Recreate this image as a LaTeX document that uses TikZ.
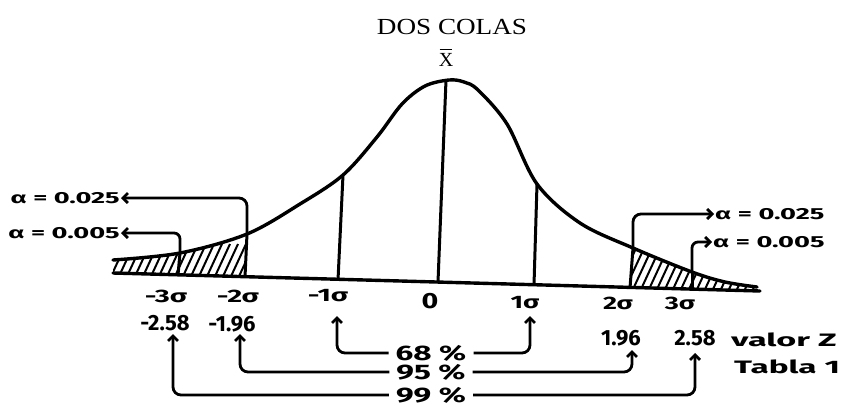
\documentclass[tikz,border=0pt]{standalone}
\usepackage{fontspec}
\setmainfont{Liberation Serif}
\newfontfamily\hand{Fira Sans}
\usetikzlibrary{arrows.meta}
\newcommand\wide[2]{\scalebox{#1}[1]{#2}}
\begin{document}
\begin{tikzpicture}[x=1pt,y=-1pt,
  curve/.style={line width=3.4pt, line join=round, line cap=round},
  vline/.style={line width=3pt},
  arr/.style={line width=2.8pt, rounded corners=8pt, -{Straight Barb[length=5pt,width=10pt]}},
  hw/.style={font=\hand\bfseries\fontsize{22}{22}\selectfont, inner sep=1pt},
  hws/.style={font=\hand\bfseries\fontsize{18}{18}\selectfont, inner sep=1pt},
  alab/.style={font=\hand\bfseries\fontsize{16}{16}\selectfont, inner sep=1pt},
  pct/.style={font=\hand\bfseries\fontsize{21}{21}\selectfont, inner xsep=7pt, inner ysep=0pt},
  hatch/.style={line width=2pt}]
\useasboundingbox (0,0) rectangle (851,408);
\def\curvepts{(113,260) (180,253) (247,234) (300,204) (343,175) (377,137) (402,104) (425,86) (449,80) (464,82) (478,90) (507,124) (537,184) (580,223) (633,248) (692,272) (725,282) (757,287)}
% hatched tails
\begin{scope}
  \clip (100,0) rectangle (246,408) (631,0) rectangle (780,408);
  \clip plot[smooth,tension=0.55] coordinates {\curvepts} -- (760,291) -- (113,273) -- cycle;
  \foreach \x in {60,68,...,800} \draw[hatch] (\x,300) -- ++(26,-56);
\end{scope}
% curve and base line
\draw[curve] plot[smooth,tension=0.55] coordinates {\curvepts};
\coordinate (bl) at (113,273);
\coordinate (br) at (760,291);
\draw[curve] (bl) -- (br);
% vertical lines
\coordinate (m3t) at (180,253); \coordinate (m3b) at (178,275);
\coordinate (m2t) at (247,234); \coordinate (m2b) at (245,277);
\coordinate (m1t) at (343,175); \coordinate (m1b) at (338,280);
\coordinate (zt) at (446,80);  \coordinate (zb) at (438,282);
\coordinate (p1t) at (537,184); \coordinate (p1b) at (534,285);
\coordinate (p2t) at (633,248); \coordinate (p2b) at (630,288);
\coordinate (p3t) at (692,272); \coordinate (p3b) at (692,290);
\foreach \a/\b in {m3t/m3b,m2t/m2b,m1t/m1b,zt/zb,p1t/p1b,p2t/p2b,p3t/p3b}
  \draw[vline] (\a) -- (\b);
% title
\node (title) at (452,27) {\fontsize{23}{23}\selectfont\wide{1.18}{DOS COLAS}};
\node[inner sep=0pt] (xbar) at (446,60) {\fontsize{20}{20}\selectfont X};
\draw[line width=1.4pt] ([xshift=1pt,yshift=4pt]xbar.north west) -- ([xshift=-1pt,yshift=4pt]xbar.north east);
% alpha labels
\node[alab, anchor=east] (a25l) at (121,198) {\wide{1.7}{α = 0.025}};
\node[alab, anchor=east] (a05l) at (121,233) {\wide{1.7}{α = 0.005}};
\node[alab, anchor=west] (a25r) at (714,214) {\wide{1.7}{α = 0.025}};
\node[alab, anchor=west] (a05r) at (712,242) {\wide{1.7}{α = 0.005}};
\draw[arr] (m2t) |- (a25l.east);
\draw[arr,rounded corners=6pt] (m3t) |- (a05l.east);
\draw[arr] (p2t) |- (a25r.west);
\draw[arr,rounded corners=6pt] (p3t) |- (a05r.west);
% sigma labels
\node[hws] (sm3) at (166,296) {\wide{1.6}{-3σ}};
\node[hws] (sm2) at (238,296) {\wide{1.6}{-2σ}};
\node[hws] (sm1) at (328,296) {\wide{1.6}{-1σ}};
\node[hw]  (s0)  at (430,301) {\wide{1.3}{0}};
\node[hws] (sp1) at (525,303) {\wide{1.5}{1σ}};
\node[hws] (sp2) at (618,303) {\wide{1.5}{2σ}};
\node[hws] (sp3) at (680,303) {\wide{1.5}{3σ}};
% z values
\node[hw] (zm258) at (165,323) {-2.58};
\node[hw] (zm196) at (232,324) {-1.96};
\node[hw] (zp196) at (621,338) {1.96};
\node[hw] (zp258) at (695,338) {2.58};
\node[hws, anchor=west] (valz) at (730,340) {\wide{1.9}{valor Z}};
\node[hws, anchor=west] (tab) at (733,367) {\wide{1.85}{Tabla 1}};
% percentages
\node[pct] (p68) at (431,353) {\wide{1.5}{68 \%}};
\node[pct] (p95) at (431,372) {\wide{1.5}{95 \%}};
\node[pct] (p99) at (431,395) {\wide{1.5}{99 \%}};
\coordinate (tm1) at (337,316);
\coordinate (tp1) at (530,316);
\coordinate (tm2) at (240,334);
\coordinate (tp2) at (632,350);
\coordinate (tm3) at (173,334);
\coordinate (tp3) at (695,353);
\draw[arr] (p68.west) -| (tm1);
\draw[arr] (p68.east) -| (tp1);
\draw[arr] (p95.west) -| (tm2);
\draw[arr] (p95.east) -| (tp2);
\draw[arr] (p99.west) -| (tm3);
\draw[arr] (p99.east) -| (tp3);
\end{tikzpicture}
\end{document}
